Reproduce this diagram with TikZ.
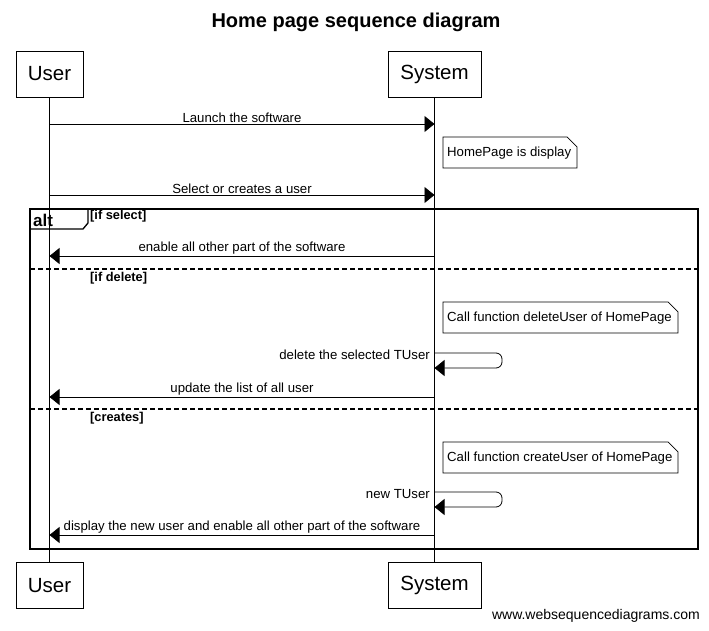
\documentclass[tikz,border=0pt]{standalone}
\usepackage{fontspec}
\setmainfont{Liberation Sans}
\usetikzlibrary{arrows.meta}
\tikzset{
  actor/.style={draw, line width=0.8pt, minimum height=46pt, inner sep=0pt, font=\fontsize{20.5}{24}\selectfont},
  lifeline/.style={line width=0.8pt},
  msg/.style={line width=0.8pt, -{Triangle[length=10pt,width=16pt]}},
  msglabel/.style={font=\fontsize{13.2}{15}\selectfont, inner sep=1pt},
  notetext/.style={font=\fontsize{13.2}{15}\selectfont, inner sep=0pt},
  noteline/.style={line width=0.7pt},
  framebox/.style={line width=1.8pt},
  sepline/.style={line width=1.3pt, dash pattern=on 5pt off 3pt},
  guard/.style={font=\bfseries\fontsize{12.8}{14}\selectfont, inner sep=0pt, anchor=west},
}
\newcommand\mynote[6]{%
  \draw[noteline, fill=white] (#2,#3) -- ({#4-10},#3) -- (#4,{#3+10}) -- (#4,#5) -- (#2,#5) -- cycle;
  \node[notetext, anchor=west] (#1) at ({#2+4},{(#3+#5)/2+1}) {#6};}
\begin{document}
\begin{tikzpicture}[x=1pt,y=-1pt]
\useasboundingbox (0,0) rectangle (709,631);
\fill[white] (0,0) rectangle (709,631);
% title
\node[font=\bfseries\fontsize{20}{24}\selectfont] (title) at (356,22) {Home page sequence diagram};
% actors
\node[actor, minimum width=67pt] (userTop) at (49.5,74) {User};
\node[actor, minimum width=93pt] (sysTop) at (434.5,74) {System};
\node[actor, minimum width=67pt] (userBot) at (49.5,585.5) {User};
\node[actor, minimum width=93pt] (sysBot) at (434.5,585.5) {System};
% lifelines
\draw[lifeline] (userTop.south) -- (userBot.north);
\draw[lifeline] (sysTop.south) -- (sysBot.north);
% coordinates on lifelines
\coordinate (u1) at (49.5,124); \coordinate (s1) at (434.5,124);
\coordinate (u2) at (49.5,195); \coordinate (s2) at (434.5,195);
\coordinate (u3) at (49.5,256); \coordinate (s3) at (434.5,256);
\coordinate (s4a) at (434.5,353); \coordinate (s4b) at (434.5,368);
\coordinate (u5) at (49.5,397); \coordinate (s5) at (434.5,397);
\coordinate (s6a) at (434.5,492); \coordinate (s6b) at (434.5,507);
\coordinate (u7) at (49.5,535); \coordinate (s7) at (434.5,535);
% messages
\draw[msg] (u1) -- node[msglabel, midway, above] {Launch the software} (s1);
\mynote{n1}{443}{137}{577}{168}{HomePage is display}
\draw[msg] (u2) -- node[msglabel, midway, above] {Select or creates a user} (s2);
% alt frame
\draw[framebox] (30,209) rectangle (698,549);
\draw[line width=1.3pt] (30,209) -- (88,209) -- (88,223) -- (83,229) -- (30,229);
\node[font=\bfseries\fontsize{17}{20}\selectfont, inner sep=0pt, anchor=west] (altlbl) at (33,220) {alt};
\node[guard] (g1) at (90,216) {[if select]};
\draw[msg] (s3) -- node[msglabel, midway, above] {enable all other part of the software} (u3);
\draw[sepline] (30,269) -- (698,269);
\node[guard] (g2) at (90,278) {[if delete]};
\mynote{n2}{443}{302}{678}{333}{Call function deleteUser of HomePage}
\draw[msg, rounded corners=6pt] (s4a) -- (502,353) -- (502,368) -- (s4b);
\node[msglabel, anchor=south east] (l4) at (431,361) {delete the selected TUser};
\draw[msg] (s5) -- node[msglabel, midway, above] {update the list of all user} (u5);
\draw[sepline] (30,409) -- (698,409);
\node[guard] (g3) at (90,418) {[creates]};
\mynote{n3}{443}{442}{678}{473}{Call function createUser of HomePage}
\draw[msg, rounded corners=6pt] (s6a) -- (502,492) -- (502,507) -- (s6b);
\node[msglabel, anchor=south east] (l6) at (431,500) {new TUser};
\draw[msg] (s7) -- node[msglabel, midway, above] {display the new user and enable all other part of the software} (u7);
% footer
\node[font=\fontsize{14}{16}\selectfont, anchor=east, inner sep=0pt] (wsd) at (700,616) {www.websequencediagrams.com};
\end{tikzpicture}
\end{document}
